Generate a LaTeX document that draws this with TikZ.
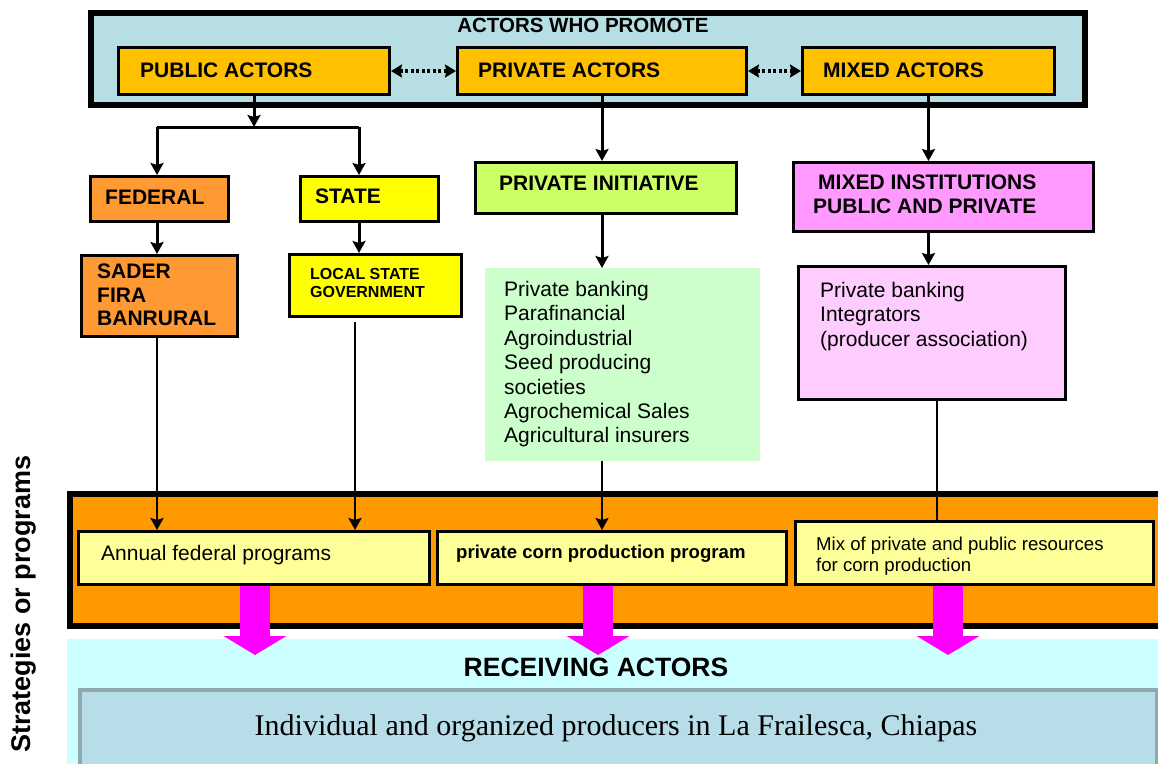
\documentclass[tikz,border=0pt]{standalone}
\usepackage{fontspec}
\setmainfont{Liberation Sans}
\newfontfamily\bodyserif{Liberation Serif}
\usetikzlibrary{arrows.meta,calc}
\definecolor{topblue}{HTML}{B7DFE3}
\definecolor{actorgold}{HTML}{FFC000}
\definecolor{fedorange}{HTML}{FF9933}
\definecolor{stateyellow}{HTML}{FFFF00}
\definecolor{pigreen}{HTML}{CCFF66}
\definecolor{listgreen}{HTML}{CCFFCC}
\definecolor{miviolet}{HTML}{FF99FF}
\definecolor{listpink}{HTML}{FFCCFF}
\definecolor{bandorange}{HTML}{FF9900}
\definecolor{progyellow}{HTML}{FFFF99}
\definecolor{recvcyan}{HTML}{CCFFFF}
\definecolor{prodblue}{HTML}{B7DEE8}
\definecolor{prodedge}{HTML}{8FA9AD}
\definecolor{bigmagenta}{HTML}{FF00FF}
\begin{document}
\begin{tikzpicture}[x=1pt,y=-1pt,
  bx/.style={draw=black,line width=3pt,inner sep=0pt,anchor=north west},
  frame/.style={draw=black,line width=6pt,inner sep=0pt,anchor=north west},
  plain/.style={inner sep=0pt,anchor=north west},
  hd/.style={inner sep=0pt,anchor=west,font=\fontsize{21}{23.5}\selectfont\bfseries},
  hdml/.style={inner sep=0pt,anchor=north west,align=left,font=\fontsize{21}{23.5}\selectfont\bfseries},
  lst/.style={inner sep=0pt,anchor=north west,align=left,font=\fontsize{21}{24.4}\selectfont},
  tip/.style={-{Stealth[length=12pt,width=13pt,inset=2pt]}},
  conn/.style={line width=3pt},
  arr/.style={conn,tip},
  conn2/.style={line width=2.5pt},
  arr2/.style={conn2,tip},
  dotarr/.style={line width=3.2pt,dash pattern=on 3pt off 2.5pt,
    {Stealth[length=11pt,width=13pt,inset=1.5pt]}-{Stealth[length=11pt,width=13pt,inset=1.5pt]}},
  bigarr/.style={line width=30pt,bigmagenta,-{Triangle[length=19pt,width=62pt]}}
]
\useasboundingbox (0,0) rectangle (1158,763);

% ---------- top frame ----------
\node[frame,fill=topblue,minimum width=994pt,minimum height=92pt] (top) at (88,10) {};
\node[inner sep=0pt,font=\fontsize{20.5}{23}\selectfont\bfseries] (topT) at (583,25) {ACTORS WHO PROMOTE};
\node[bx,fill=actorgold,minimum width=271pt,minimum height=47pt] (pub) at (117,46) {};
\node[hd] (pubT) at (140,70) {PUBLIC ACTORS};
\node[bx,fill=actorgold,minimum width=289pt,minimum height=47pt] (priv) at (456,46) {};
\node[hd] (privT) at (478,70) {PRIVATE ACTORS};
\node[bx,fill=actorgold,minimum width=252pt,minimum height=47pt] (mix) at (801,46) {};
\node[hd] (mixT) at (823,70) {MIXED ACTORS};
\draw[dotarr] (pub.east) -- (priv.west);
\draw[dotarr] (priv.east) -- (mix.west);

% ---------- public branch ----------
\node[bx,fill=fedorange,minimum width=138pt,minimum height=45pt] (fed) at (89,175) {};
\node[hd] (fedT) at (105,197) {FEDERAL};
\node[bx,fill=stateyellow,minimum width=138pt,minimum height=45pt] (state) at (299,175) {};
\node[hd] (stateT) at (315,196) {STATE};
\node[bx,fill=fedorange,minimum width=156pt,minimum height=81pt] (sader) at (80,254) {};
\node[hdml] (saderT) at (97,264) {SADER\\FIRA\\BANRURAL};
\node[bx,fill=stateyellow,minimum width=172pt,minimum height=62pt] (local) at (288,253) {};
\node[inner sep=0pt,anchor=north west,align=left,font=\fontsize{16}{18}\selectfont\bfseries] (localT) at (310,268) {LOCAL STATE\\GOVERNMENT};

% ---------- private branch ----------
\node[bx,fill=pigreen,minimum width=261pt,minimum height=51pt] (pi) at (474,161) {};
\node[hd] (piT) at (499,183) {PRIVATE INITIATIVE};
\node[plain,fill=listgreen,minimum width=275pt,minimum height=193pt] (green) at (485,268) {};
\node[lst] (greenT) at (504,281) {Private banking\\Parafinancial\\Agroindustrial\\Seed producing\\societies\\Agrochemical Sales\\Agricultural insurers};

% ---------- mixed branch ----------
\node[bx,fill=miviolet,minimum width=300pt,minimum height=69pt] (mi) at (792,161) {};
\node[hdml] (miT) at (813,175) {\hspace*{5pt}MIXED INSTITUTIONS\\PUBLIC AND PRIVATE};
\node[bx,fill=listpink,minimum width=267pt,minimum height=133pt] (pink) at (797,265) {};
\node[lst] (pinkT) at (820,282) {Private banking\\Integrators\\(producer association)};

% ---------- strategies band ----------
\node[frame,fill=bandorange,minimum width=1100pt,minimum height=132pt] (band) at (67,491) {};
\node[plain,fill=recvcyan,minimum width=1100pt,minimum height=130pt] (recv) at (67,639) {};
\node[bx,fill=progyellow,minimum width=351pt,minimum height=53pt] (ann) at (77,530) {};
\node[inner sep=0pt,anchor=west,font=\fontsize{21}{24}\selectfont] (annT) at (101,555) {Annual federal programs};
\node[bx,fill=progyellow,minimum width=349pt,minimum height=53pt] (pcp) at (436,530) {};
\node[inner sep=0pt,anchor=west,font=\fontsize{18.6}{21}\selectfont\bfseries] (pcpT) at (456,554) {private corn production program};
\node[bx,fill=progyellow,minimum width=358pt,minimum height=63pt] (mixp) at (794,520) {};
\node[inner sep=0pt,anchor=north west,align=left,font=\fontsize{18.6}{21}\selectfont] (mixpT) at (816,537) {Mix of private and public resources\\for corn production};

% ---------- receiving ----------
\node[inner sep=0pt,font=\fontsize{26.5}{30}\selectfont\bfseries] (recvT) at (596,667) {RECEIVING ACTORS};
\node[draw=prodedge,line width=4pt,fill=prodblue,inner sep=0pt,anchor=north west,minimum width=1077pt,minimum height=85pt] (prod) at (78,688) {};
\node[inner sep=0pt,font=\bodyserif\fontsize{30}{34}\selectfont] (prodT) at (616,728) {Individual and organized producers in La Frailesca, Chiapas};

% ---------- side label ----------
\node[inner sep=0pt,rotate=90,font=\fontsize{27}{30}\selectfont\bfseries] (side) at (24,604) {Strategies or programs};

% ---------- connectors ----------
\coordinate (bl) at (157,127);
\coordinate (br) at (359,127);
\coordinate (lx) at (355,322);
\coordinate (px) at (937,0);
\draw[arr] (pub.south) -- (pub.south |- bl);
\draw[conn] (bl) -- (br);
\draw[arr] (bl) -- (bl |- fed.north);
\draw[arr] (br) -- (br |- state.north);
\draw[arr] (bl |- fed.south) -- (bl |- sader.north);
\draw[arr] (br |- state.south) -- (br |- local.north);
\draw[arr2] (bl |- sader.south) -- (bl |- ann.north);
\draw[arr2] (lx) -- (lx |- ann.north);
\draw[arr] (priv.south) -- (priv.south |- pi.north);
\draw[arr] (priv.south |- pi.south) -- (priv.south |- green.north);
\draw[arr2] (priv.south |- green.south) -- (priv.south |- pcp.north);
\draw[arr] (mix.south) -- (mix.south |- mi.north);
\draw[arr] (mix.south |- mi.south) -- (mix.south |- pink.north);
\draw[conn2] (px |- pink.south) -- (px |- mixp.north);

% ---------- big magenta arrows ----------
\coordinate (m1) at (255,655);
\coordinate (m2) at (598,655);
\coordinate (m3) at (948,655);
\draw[bigarr] (m1 |- ann.south) -- (m1);
\draw[bigarr] (m2 |- pcp.south) -- (m2);
\draw[bigarr] (m3 |- mixp.south) -- (m3);
\end{tikzpicture}
\end{document}
